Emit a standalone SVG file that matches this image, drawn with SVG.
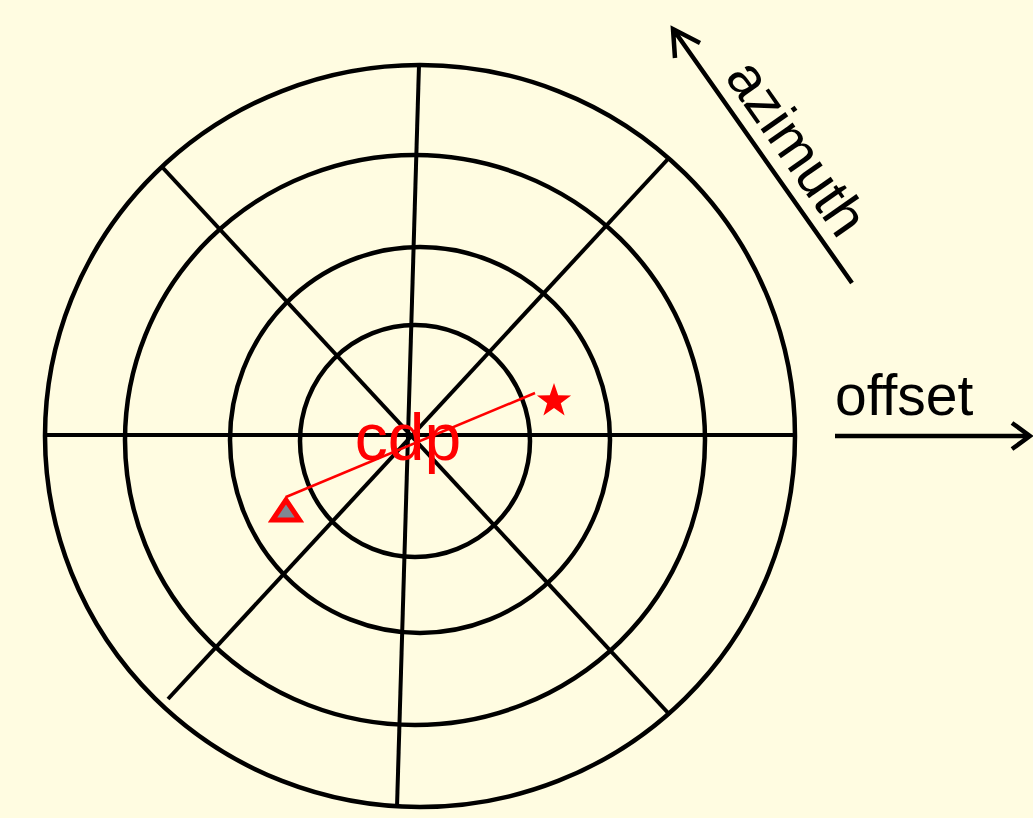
<svg xmlns="http://www.w3.org/2000/svg" width="1033" height="818" viewBox="0 0 1033 818">
  <style>
    .ring { fill: none; stroke: #000; stroke-width: 4.5; }
    .spoke { stroke: #000; stroke-width: 4; stroke-linecap: butt; }
    .axis { fill: none; stroke: #000; stroke-width: 4.5; }
    .lbl { font-family: "Liberation Sans", Arial, sans-serif; font-size: 57px; fill: #000; }
    .red { font-family: "Liberation Sans", Arial, sans-serif; font-size: 66px; fill: #ff0000; }
  </style>
  <rect width="1033" height="818" fill="#fffce1"/>
  <g id="grid">
    <ellipse class="ring" cx="420" cy="436" rx="375" ry="371"/>
    <ellipse class="ring" cx="415" cy="440" rx="290" ry="285"/>
    <ellipse class="ring" cx="420" cy="440" rx="190" ry="193"/>
    <ellipse class="ring" cx="415" cy="441" rx="115" ry="116"/>
    <line class="spoke" x1="45" y1="435" x2="795" y2="435"/>
    <line class="spoke" x1="419" y1="65" x2="397" y2="807"/>
    <line class="spoke" x1="163" y1="168" x2="670" y2="715"/>
    <line class="spoke" x1="668" y1="159" x2="168" y2="699"/>
  </g>
  <g id="connectors">
    <line x1="535" y1="393" x2="286" y2="497" stroke="#ff0000" stroke-width="2.5"/>
    <path class="axis" d="M852,283 L673,29 M675,58 L673,29 L700,43"/>
    <path class="axis" d="M835,436 L1030,436 M1012,423 L1030,436 L1012,449"/>
  </g>
  <g id="cdp">
    <text class="red" x="408" y="460" text-anchor="middle">cdp</text>
  </g>
  <g id="source">
    <polygon points="554,383 558.2,395.3 571.1,395.4 560.8,403.2 564.6,415.6 554,408.1 543.4,415.6 547.2,403.2 536.9,395.4 549.8,395.3" fill="#ff0000"/>
  </g>
  <g id="receiver">
    <polygon points="286,500 272.5,520 299.5,520" fill="#7f8793" stroke="#ff0000" stroke-width="5" stroke-linejoin="miter"/>
  </g>
  <g id="azimuth-label">
    <text class="lbl" transform="translate(724,77) rotate(55)">azimuth</text>
  </g>
  <g id="offset-label">
    <text class="lbl" x="835" y="415">offset</text>
  </g>
</svg>
